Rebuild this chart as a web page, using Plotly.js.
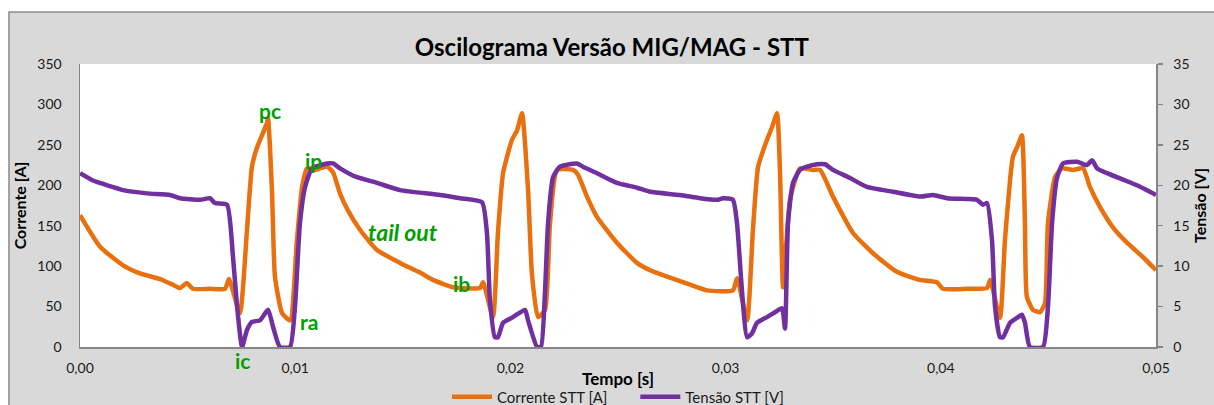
<!DOCTYPE html>
<html>
<head>
<meta charset="utf-8">
<script src="https://cdn.plot.ly/plotly-3.0.1.min.js"></script>
<style>
  html, body { margin: 0; padding: 0; background: #ffffff; }
  #chart { width: 1214px; height: 405px; }
</style>
</head>
<body>
<div id="chart"></div>
<script>
// Time in seconds
var tempoCorrente = [
  0.00000, 0.00093, 0.00200, 0.00279, 0.00372, 0.00432, 0.00465, 0.00497, 0.00525, 0.00604,
  0.00674, 0.00692, 0.00743, 0.00776, 0.00799, 0.00823, 0.00869, 0.00874, 0.00892, 0.00906,
  0.00939, 0.00976, 0.01008, 0.01032, 0.01055, 0.01092, 0.01148, 0.01176, 0.01208, 0.01245,
  0.01301, 0.01380, 0.01487, 0.01580, 0.01640, 0.01733, 0.01859, 0.01873, 0.01919, 0.01942,
  0.01966, 0.02007, 0.02031, 0.02054, 0.02082, 0.02100, 0.02128, 0.02161, 0.02184, 0.02217,
  0.02291, 0.02314, 0.02356, 0.02402, 0.02495, 0.02588, 0.02649, 0.02728, 0.02835, 0.02914,
  0.03034, 0.03053, 0.03100, 0.03127, 0.03151, 0.03192, 0.03216, 0.03239, 0.03253, 0.03267,
  0.03299, 0.03346, 0.03406, 0.03439, 0.03499, 0.03592, 0.03685, 0.03796, 0.03903, 0.03982,
  0.04010, 0.04122, 0.04215, 0.04229, 0.04275, 0.04298, 0.04322, 0.04335, 0.04359, 0.04377,
  0.04391, 0.04400, 0.04428, 0.04461, 0.04484, 0.04498, 0.04531, 0.04563, 0.04614, 0.04661,
  0.04693, 0.04740, 0.04800, 0.04865, 0.04940, 0.05000
];
var correnteSTT = [
  163, 124, 101, 91, 84, 77, 73, 79, 72, 72,
  72, 84, 42, 145, 223, 247, 277, 283, 194, 87,
  42, 33, 132, 198, 221, 219, 223, 216, 190, 169,
  145, 120, 104, 92, 83, 74, 73, 80, 37, 141,
  215, 256, 268, 289, 194, 91, 37, 46, 153, 219,
  219, 213, 186, 161, 129, 104, 95, 87, 77, 70,
  70, 85, 33, 145, 223, 256, 272, 289, 215, 74,
  182, 221, 219, 219, 186, 141, 116, 93, 83, 80,
  72, 72, 73, 83, 36, 132, 207, 235, 250, 262,
  153, 62, 46, 43, 54, 153, 210, 221, 219, 221,
  198, 173, 148, 129, 111, 95
];

var tempoTensao = [
  0.00000, 0.00060, 0.00093, 0.00200, 0.00311, 0.00418, 0.00465, 0.00558, 0.00604, 0.00627,
  0.00683, 0.00711, 0.00730, 0.00753, 0.00776, 0.00799, 0.00836, 0.00874, 0.00897, 0.00929,
  0.00976, 0.00999, 0.01022, 0.01046, 0.01078, 0.01148, 0.01176, 0.01208, 0.01287, 0.01380,
  0.01487, 0.01673, 0.01766, 0.01868, 0.01891, 0.01905, 0.01928, 0.01942, 0.01966, 0.02012,
  0.02068, 0.02082, 0.02124, 0.02142, 0.02161, 0.02175, 0.02198, 0.02230, 0.02309, 0.02337,
  0.02402, 0.02495, 0.02588, 0.02649, 0.02788, 0.02881, 0.02960, 0.02988, 0.03034, 0.03053,
  0.03076, 0.03100, 0.03123, 0.03146, 0.03192, 0.03230, 0.03262, 0.03276, 0.03290, 0.03313,
  0.03346, 0.03378, 0.03425, 0.03462, 0.03499, 0.03578, 0.03657, 0.03778, 0.03903, 0.03964,
  0.04029, 0.04122, 0.04168, 0.04196, 0.04215, 0.04238, 0.04252, 0.04275, 0.04289, 0.04322,
  0.04354, 0.04377, 0.04391, 0.04414, 0.04475, 0.04498, 0.04517, 0.04540, 0.04568, 0.04633,
  0.04679, 0.04703, 0.04726, 0.04772, 0.04847, 0.04912, 0.04972, 0.05000
];
var tensaoSTT = [
  21.5, 20.6, 20.3, 19.4, 19.0, 18.8, 18.4, 18.2, 18.4, 17.8,
  17.6, 11.1, 5.0, 0.0, 2.1, 3.1, 3.3, 4.6, 2.5, 0.0,
  0.0, 5.0, 15.3, 19.8, 22.1, 22.7, 22.7, 22.1, 21.0, 20.3,
  19.4, 18.8, 18.4, 17.9, 14.1, 5.8, 1.2, 1.2, 3.0, 3.7,
  4.6, 3.3, 0.0, 0.0, 7.0, 15.3, 21.0, 22.3, 22.7, 22.3,
  21.5, 20.3, 19.7, 19.2, 18.8, 18.4, 18.2, 18.4, 18.2, 15.3,
  7.0, 1.2, 1.7, 3.0, 3.7, 4.3, 4.8, 2.3, 15.3, 20.3,
  21.9, 22.3, 22.6, 22.6, 21.9, 20.9, 19.8, 19.2, 18.6, 18.8,
  18.4, 18.3, 18.2, 17.6, 17.8, 13.2, 5.0, 1.2, 1.2, 3.0,
  3.6, 4.0, 3.0, 0.0, 0.0, 5.0, 15.3, 20.9, 22.7, 22.9,
  22.5, 23.1, 22.1, 21.5, 20.7, 20.0, 19.2, 18.8
];

var rotulos = ['pc', 'ip', 'tail out', 'ib', 'ra', 'ic'];
var rotuloTempo = [0.00884, 0.01083, 0.01501, 0.01775, 0.01064, 0.00753];
var rotuloCorrente = [293, 231, 142, 79, 31, -17];
var rotuloItalico = [false, false, true, false, false, false];

var FONT = 'Lato, "Open Sans", "DejaVu Sans", sans-serif';
var GREEN = '#00a000';
var NB = '\u00a0';

var traces = [
  {
    x: tempoCorrente, y: correnteSTT, name: 'Corrente STT [A]' + NB + NB + NB + NB + NB + NB,
    type: 'scatter', mode: 'lines', yaxis: 'y',
    line: { color: '#e8700e', width: 4.5, shape: 'spline', smoothing: 0.5 }
  },
  {
    x: tempoTensao, y: tensaoSTT, name: 'Tensão STT [V]',
    type: 'scatter', mode: 'lines', yaxis: 'y2',
    line: { color: '#7030a0', width: 4.5, shape: 'spline', smoothing: 0.5 }
  }
];

// y axis range (Corrente) used to place labels below the axis in paper units
var yMin = 0, yMax = 350;
var annotations = rotulos.map(function (txt, i) {
  var inside = rotuloCorrente[i] >= yMin;
  return {
    x: rotuloTempo[i], xref: 'x',
    y: inside ? rotuloCorrente[i] : (rotuloCorrente[i] - yMin) / (yMax - yMin),
    yref: inside ? 'y' : 'paper',
    text: rotuloItalico[i] ? '<b><i>' + txt + '</i></b>' : '<b>' + txt + '</b>',
    showarrow: false, xanchor: 'center', yanchor: 'middle',
    font: { family: FONT, size: rotuloItalico[i] ? 23 : 21, color: GREEN }
  };
});
// x axis title, placed as in the original (between the tick labels and the legend)
annotations.push({
  x: 0.5, xref: 'paper', y: -0.113, yref: 'paper',
  text: '<b>Tempo [s]</b>', showarrow: false, xanchor: 'center', yanchor: 'middle',
  font: { family: FONT, size: 17, color: '#000000' }
});

var layout = {
  width: 1214, height: 405,
  margin: { l: 80, r: 58, t: 64, b: 58, pad: 0, autoexpand: false },
  paper_bgcolor: '#d9d9d9',
  plot_bgcolor: '#ffffff',
  separators: ',.',
  font: { family: FONT, size: 14, color: '#1a1a1a' },
  title: {
    text: '<b>Oscilograma Versão MIG/MAG - STT</b>',
    x: 0.504, xref: 'container', xanchor: 'center',
    y: 0.882, yref: 'container', yanchor: 'middle',
    font: { family: FONT, size: 24, color: '#000000' }
  },
  xaxis: {
    range: [0, 0.05], dtick: 0.01, tick0: 0, tickformat: '.2f',
    showgrid: false, zeroline: false, showline: true,
    linecolor: '#868686', linewidth: 1.5, ticks: '', ticklabelstandoff: 8,
    tickfont: { family: FONT, size: 14, color: '#1a1a1a' }
  },
  yaxis: {
    range: [yMin, yMax], dtick: 50, showgrid: false, zeroline: false, showline: true,
    linecolor: '#868686', linewidth: 1.5, ticks: '', ticklabelstandoff: 14,
    tickfont: { family: FONT, size: 14, color: '#1a1a1a' },
    title: { text: '<b>Corrente [A]</b>', standoff: 6, font: { family: FONT, size: 16, color: '#000' } }
  },
  yaxis2: {
    range: [0, 35], dtick: 5, overlaying: 'y', side: 'right',
    showgrid: false, zeroline: false, showline: true,
    linecolor: '#868686', linewidth: 1.5, ticks: 'outside', ticklen: 5,
    tickcolor: '#868686', tickwidth: 1.5, ticklabelstandoff: 8,
    tickfont: { family: FONT, size: 14, color: '#1a1a1a' },
    title: { text: '<b>Tensão [V]</b>', standoff: 6, font: { family: FONT, size: 16, color: '#000' } }
  },
  showlegend: true,
  legend: {
    orientation: 'h', x: 0.5, xanchor: 'center', y: -0.177, yanchor: 'middle',
    bgcolor: 'rgba(0,0,0,0)', font: { family: FONT, size: 15, color: '#1a1a1a' },
    itemwidth: 40, tracegroupgap: 0
  },
  annotations: annotations,
  shapes: [
    { type: 'rect', xref: 'paper', yref: 'paper', x0: -0.2, x1: 1.2, y0: 1.1837, y1: 1.4,
      fillcolor: '#ffffff', line: { width: 0 }, layer: 'below' },
    { type: 'rect', xref: 'paper', yref: 'paper', x0: -0.2, x1: -0.066, y0: -0.4, y1: 1.4,
      fillcolor: '#ffffff', line: { width: 0 }, layer: 'below' },
    { type: 'rect', xref: 'paper', yref: 'paper', x0: -0.066, x1: 1.2, y0: -0.4, y1: 1.1837,
      fillcolor: 'rgba(0,0,0,0)', line: { color: '#8a8a8a', width: 1.5 }, layer: 'below' }
  ]
};

Plotly.newPlot('chart', traces, layout, { displayModeBar: false, staticPlot: true });
</script>
</body>
</html>
